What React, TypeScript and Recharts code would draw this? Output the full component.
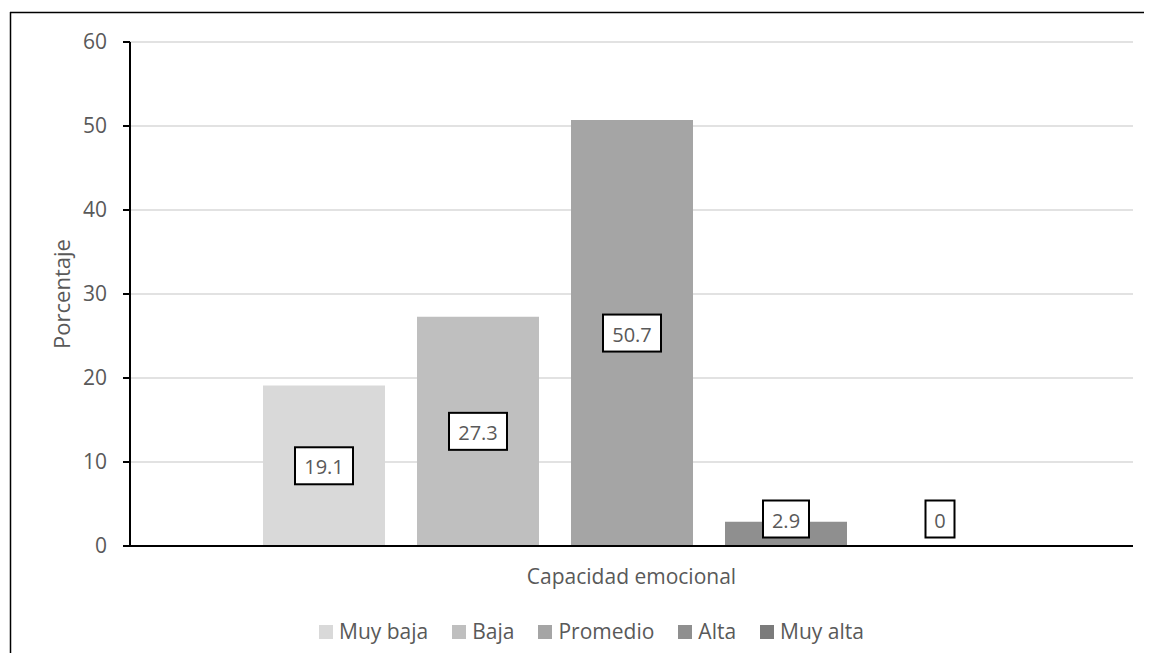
import { BarChart, Bar, XAxis, YAxis, CartesianGrid, Legend, LabelList } from 'recharts';

const category = ['Capacidad emocional'];
const seriesNames = ['Muy baja', 'Baja', 'Promedio', 'Alta', 'Muy alta'];
const seriesValues = [19.1, 27.3, 50.7, 2.9, 0];
const yTicks = [0, 10, 20, 30, 40, 50, 60];

const colors = ['#d9d9d9', '#bfbfbf', '#a5a5a5', '#8f8f8f', '#7b7b7b'];
const FONT = '"Open Sans", "Noto Sans", sans-serif';
const TEXT = '#595959';
const FS = 21;

const chartData = category.map((name) => {
  const row: Record<string, any> = { name };
  seriesNames.forEach((s, i) => { row[s] = seriesValues[i]; });
  return row;
});

// boxed value label, centred in the bar but kept clear of the axis
function BoxLabel(props: any) {
  const { x, y, width, height, value } = props;
  const baseline = y + height;
  const cx = x + width / 2;
  const cy = Math.min(y + height / 2, baseline - 27);
  const str = String(value);
  const digits = str.replace(/[^0-9]/g, '').length;
  const dots = str.length - digits;
  const w = Math.round(digits * 11.4 + dots * 5.4 + 18);
  const h = 37;
  return (
    <g>
      <rect x={cx - w / 2} y={cy - h / 2} width={w} height={h} fill="#fff" stroke="#000" strokeWidth={2} />
      <text x={cx} y={cy + 1} textAnchor="middle" dominantBaseline="central" fontSize={20} fontFamily={FONT} fill={TEXT}>
        {str}
      </text>
    </g>
  );
}

function CategoryTick({ x, y, payload }: any) {
  return (
    <text x={x} y={y + 30} textAnchor="middle" fontSize={FS} fontFamily={FONT} fill={TEXT}>
      {payload.value}
    </text>
  );
}

function LegendContent() {
  return (
    <div style={{ display: 'flex', justifyContent: 'center', gap: 24, paddingTop: 17, paddingLeft: 50, fontFamily: FONT, fontSize: FS, color: TEXT, lineHeight: '27px' }}>
      {seriesNames.map((s, i) => (
        <div key={s} style={{ display: 'flex', alignItems: 'center', gap: 6 }}>
          <span style={{ width: 14, height: 14, background: colors[i], display: 'inline-block' }} />
          <span>{s}</span>
        </div>
      ))}
    </div>
  );
}

export default function App() {
  return (
    <div style={{ position: 'relative', width: 1152, height: 661, margin: -8, overflow: 'hidden', background: '#fff' }}>
      {/* chart frame, running off the right and bottom edges */}
      <svg width={1152} height={661} style={{ position: 'absolute', left: 0, top: 0 }}>
        <line x1={10} y1={12.5} x2={1152} y2={12.5} stroke="#000" strokeWidth={1.5} />
        <line x1={10.5} y1={12} x2={10.5} y2={661} stroke="#000" strokeWidth={1.5} />
      </svg>
      <div style={{ position: 'absolute', left: 0, top: 0 }}>
        <BarChart
          width={1152}
          height={661}
          data={chartData}
          margin={{ top: 42, right: 19, left: 0, bottom: 0 }}
          barSize={122}
          barGap={32}
        >
          <CartesianGrid vertical={false} stroke="#d9d9d9" strokeWidth={1.5} />
          <XAxis
            dataKey="name"
            height={55}
            tickLine={false}
            axisLine={{ stroke: '#000', strokeWidth: 2 }}
            tick={<CategoryTick />}
          />
          <YAxis
            domain={[0, 60]}
            ticks={yTicks}
            width={130}
            tickSize={7}
            tickLine={{ stroke: '#000', strokeWidth: 2 }}
            axisLine={{ stroke: '#000', strokeWidth: 2 }}
            tick={{ fontSize: FS, fontFamily: FONT, fill: TEXT }}
            tickMargin={16}
            label={{ value: 'Porcentaje', angle: -90, position: 'insideLeft', offset: 62, style: { fontSize: 22, fontFamily: FONT, fill: TEXT, textAnchor: 'middle' } }}
          />
          <Legend verticalAlign="bottom" height={60} content={<LegendContent />} />
          {seriesNames.map((s, i) => (
            <Bar key={s} dataKey={s} fill={colors[i]} minPointSize={1} isAnimationActive={false}>
              <LabelList dataKey={s} content={<BoxLabel />} />
            </Bar>
          ))}
        </BarChart>
      </div>
    </div>
  );
}
